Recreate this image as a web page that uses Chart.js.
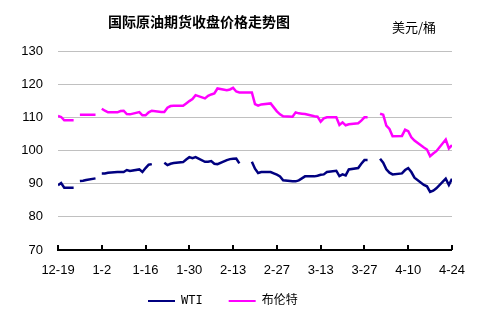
<!DOCTYPE html>
<html>
<head>
  <meta charset="UTF-8">
  <title>国际原油期货收盘价格走势图</title>
  <script src="https://cdn.jsdelivr.net/npm/chart.js@4.4.0/dist/chart.umd.min.js"></script>
  <style>
    body { margin: 0; background: #fff; }
  </style>
</head>
<body>
  <div style="position: relative; width:478px; height:323px;">
    <canvas id="oil-chart" width="478" height="323"></canvas>
  </div>
  <script>
    // trading days, null = market closed
    var dates = [
      '2012-12-19', '2012-12-20', '2012-12-21', '2012-12-24', '2012-12-25', '2012-12-26', '2012-12-27', '2012-12-28', '2012-12-31',
      '2013-01-01', '2013-01-02', '2013-01-03', '2013-01-04', '2013-01-07', '2013-01-08', '2013-01-09', '2013-01-10', '2013-01-11',
      '2013-01-14', '2013-01-15', '2013-01-16', '2013-01-17', '2013-01-18', '2013-01-21', '2013-01-22', '2013-01-23', '2013-01-24',
      '2013-01-25', '2013-01-28', '2013-01-29', '2013-01-30', '2013-01-31', '2013-02-01', '2013-02-04', '2013-02-05', '2013-02-06',
      '2013-02-07', '2013-02-08', '2013-02-11', '2013-02-12', '2013-02-13', '2013-02-14', '2013-02-15', '2013-02-18', '2013-02-19',
      '2013-02-20', '2013-02-21', '2013-02-22', '2013-02-25', '2013-02-26', '2013-02-27', '2013-02-28', '2013-03-01', '2013-03-04',
      '2013-03-05', '2013-03-06', '2013-03-07', '2013-03-08', '2013-03-11', '2013-03-12', '2013-03-13', '2013-03-14', '2013-03-15',
      '2013-03-18', '2013-03-19', '2013-03-20', '2013-03-21', '2013-03-22', '2013-03-25', '2013-03-26', '2013-03-27', '2013-03-28',
      '2013-03-29', '2013-04-01', '2013-04-02', '2013-04-03', '2013-04-04', '2013-04-05', '2013-04-08', '2013-04-09', '2013-04-10',
      '2013-04-11', '2013-04-12', '2013-04-15', '2013-04-16', '2013-04-17', '2013-04-18', '2013-04-19', '2013-04-22', '2013-04-23',
      '2013-04-24'
    ];

    var wti = [
      89.5, 90.2, 88.8, 88.8, null, 90.8, 90.9, 91.1, 91.6,
      null, 93.1, 93.1, 93.3, 93.5, 93.5, 93.5, 94.1, 93.8,
      94.3, 93.5, 94.7, 95.7, 95.9, null, 96.3, 95.6, 96.0,
      96.2, 96.5, 97.3, 98.0, 97.7, 98.0, 96.6, 96.6, 96.8,
      96.0, 95.9, 97.1, 97.4, 97.5, 97.6, 96.1, null, 96.6,
      94.5, 93.2, 93.5, 93.5, 93.1, 92.7, 92.2, 91.0, 90.7,
      90.7, 91.0, 91.6, 92.2, 92.2, 92.4, 92.7, 92.8, 93.5,
      93.9, 92.3, 92.8, 92.5, 94.3, 94.7, 96.0, 97.1, 97.1,
      null, 97.5, 96.3, 94.3, 93.3, 92.8, 93.1, 94.1, 94.7,
      93.5, 91.8, 89.6, 89.2, 87.5, 87.9, 88.6, 91.5, 89.6,
      91.5
    ];

    var brent = [
      110.4, 110.1, 109.1, 109.1, null, 110.8, 110.8, 110.8, 110.8,
      null, 112.6, 112.0, 111.5, 111.5, 111.9, 112.0, 111.0, 110.9,
      111.6, 110.6, 110.6, 111.5, 112.0, 111.6, 111.6, 112.9, 113.4,
      113.5, 113.5, 114.2, 114.9, 115.5, 116.7, 115.7, 116.5, 116.9,
      117.2, 118.7, 118.2, 118.4, 118.9, 117.8, 117.5, 117.5, 117.5,
      114.0, 113.5, 113.9, 114.2, 113.0, 111.8, 110.9, 110.3, 110.2,
      111.5, 111.2, 111.1, 111.0, 110.3, 110.2, 108.7, 109.7, 110.0,
      110.0, 107.7, 108.5, 107.6, 107.9, 108.2, 109.0, 110.0, 110.0,
      null, 111.1, 110.8, 107.5, 106.5, 104.3, 104.4, 106.3, 105.8,
      104.0, 103.0, 100.9, 100.3, 98.3, 99.1, 99.8, 103.3, 100.6,
      101.6
    ];

    var tickLabels = ['12-19', '1-2', '1-16', '1-30', '2-13', '2-27', '3-13', '3-27', '4-10', '4-24'];

    var startDay = Date.UTC(2012, 11, 19);
    function dayIndex(s) {
      var p = s.split('-');
      return Math.round((Date.UTC(+p[0], +p[1] - 1, +p[2]) - startDay) / 86400000);
    }
    function toPoints(values) {
      return dates.map(function(d, i) { return { x: dayIndex(d), y: values[i] }; });
    }

    var axisFont = { family: '"Liberation Sans", Arial, sans-serif', size: 13 };

    // heading, unit, inward tick marks and legend placement
    var decorations = {
      id: 'decorations',
      afterLayout: function(chart) {
        var lg = chart.legend;
        var pad = lg.options.labels.padding;
        var startX = (lg.left + pad + lg.right - lg.lineWidths[0]) / 2;
        var dx = 148 - startX;
        lg.left += dx;
        lg.right += dx;
        lg.top -= 6;
        lg.bottom -= 6;
      },
      afterDraw: function(chart) {
        var ctx = chart.ctx;
        var xs = chart.scales.x;
        var bottom = chart.chartArea.bottom;
        ctx.save();
        ctx.strokeStyle = '#000';
        ctx.lineWidth = 2;
        xs.ticks.forEach(function(t) {
          var px = Math.round(xs.getPixelForValue(t.value));
          ctx.beginPath();
          ctx.moveTo(px, bottom);
          ctx.lineTo(px, bottom - 5);
          ctx.stroke();
        });
        ctx.fillStyle = '#000';
        ctx.textBaseline = 'middle';
        ctx.textAlign = 'center';
        ctx.font = 'bold 14px "Noto Sans CJK SC", sans-serif';
        ctx.fillText('国际原油期货收盘价格走势图', 199, 22);
        ctx.textAlign = 'left';
        ctx.font = '13px "Noto Sans CJK SC", sans-serif';
        ctx.fillText('美元/桶', 392, 27);
        ctx.restore();
      }
    };

    new Chart(document.getElementById('oil-chart'), {
      type: 'line',
      data: {
        datasets: [{
          label: 'WTI',
          data: toPoints(wti),
          borderColor: '#000080',
          backgroundColor: '#000080',
          borderWidth: 2.5
        }, {
          label: '布伦特',
          data: toPoints(brent),
          borderColor: '#ff00ff',
          backgroundColor: '#ff00ff',
          borderWidth: 2.5
        }]
      },
      options: {
        responsive: false,
        animation: false,
        spanGaps: false,
        elements: {
          point: { radius: 0 },
          line: { tension: 0 }
        },
        layout: {
          padding: { left: 0, right: 24, top: 51, bottom: 0 }
        },
        scales: {
          x: {
            type: 'linear',
            min: 0,
            max: 126,
            afterFit: function(scale) { scale.height = 25; },
            ticks: {
              stepSize: 14,
              autoSkip: false,
              maxRotation: 0,
              padding: 13,
              color: '#000',
              font: axisFont,
              callback: function(value) { return tickLabels[value / 14]; }
            },
            grid: { drawOnChartArea: false, drawTicks: false },
            border: { color: '#000', width: 2 }
          },
          y: {
            min: 70,
            max: 130,
            afterFit: function(scale) { scale.width = 58; },
            ticks: {
              stepSize: 10,
              padding: 15,
              color: '#000',
              font: axisFont
            },
            grid: {
              drawTicks: false,
              color: function(c) { return c.tick && c.tick.value === 70 ? 'rgba(0,0,0,0)' : '#c0c0c0'; }
            },
            border: { display: false }
          }
        },
        plugins: {
          tooltip: { enabled: false },
          title: { display: false },
          legend: {
            display: true,
            position: 'bottom',
            labels: {
              boxWidth: 27,
              boxHeight: 2,
              padding: 26,
              color: '#000',
              font: { family: '"DejaVu Sans Mono", "Noto Sans CJK SC", monospace', size: 12 },
              generateLabels: function(chart) {
                var items = Chart.defaults.plugins.legend.labels.generateLabels(chart);
                items.forEach(function(it) { it.lineWidth = 0; });
                return items;
              }
            }
          }
        }
      },
      plugins: [decorations]
    });
  </script>
</body>
</html>
